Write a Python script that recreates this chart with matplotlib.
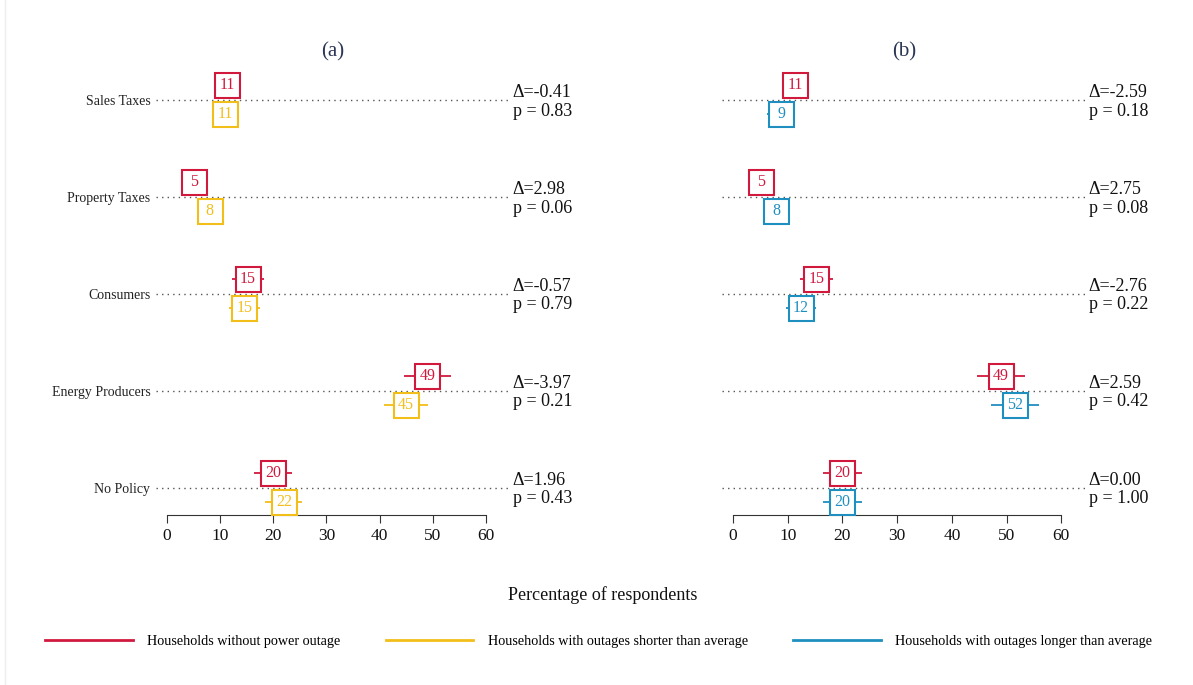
import matplotlib
matplotlib.use("Agg")
import matplotlib.pyplot as plt
from matplotlib.lines import Line2D

plt.rcParams['font.family'] = ['Liberation Serif', 'DejaVu Serif']

categories = ['Sales Taxes', 'Property Taxes', 'Consumers', 'Energy Producers', 'No Policy']

# point estimates (% of respondents)
no_outage = [11.4, 5.1, 15.2, 49.0, 20.0]
short_outage = [11.0, 8.1, 14.6, 45.0, 22.0]
long_outage = [8.8, 7.9, 12.4, 51.6, 20.0]

# half width of the confidence intervals
no_outage_ci = [2.5, 2.0, 3.0, 4.4, 3.5]
short_outage_ci = [2.3, 2.0, 2.9, 4.1, 3.5]
long_outage_ci = [2.6, 2.4, 2.7, 4.4, 3.6]

delta_a = ['-0.41', '2.98', '-0.57', '-3.97', '1.96']
pval_a = ['0.83', '0.06', '0.79', '0.21', '0.43']
delta_b = ['-2.59', '2.75', '-2.76', '2.59', '0.00']
pval_b = ['0.18', '0.08', '0.22', '0.42', '1.00']

RED = '#D1193E'
YELLOW = '#F2BE1A'
BLUE = '#1F8FC0'

W, H = 1193, 685
fig = plt.figure(figsize=(W / 100, H / 100), dpi=100)

ax_a = fig.add_axes([156 / W, 1 - 515 / H, 354 / W, 449 / H])
ax_b = fig.add_axes([722 / W, 1 - 515 / H, 364 / W, 449 / H])

ypos = [4, 3, 2, 1, 0]
off = 0.15


def draw_group(ax, vals, cis, y_off, color):
    for v, c, y in zip(vals, cis, ypos):
        ax.hlines(y + y_off, v - c, v + c, color=color, lw=1.3, zorder=2)
        ax.plot(v, y + y_off, marker='s', ms=18, mfc='white', mec=color, mew=1.5, zorder=3)
        ax.text(v, y + y_off, '%d' % round(v), color=color, fontsize=11.5,
                ha='center', va='center', zorder=4)


def panel(ax, other, other_ci, other_color, deltas, pvals, title, labels):
    for y in ypos:
        ax.axhline(y, color='#555555', lw=1.0, ls=(0, (1, 3)), zorder=1)
    draw_group(ax, no_outage, no_outage_ci, off, RED)
    draw_group(ax, other, other_ci, -off, other_color)
    for y, d, p in zip(ypos, deltas, pvals):
        ax.text(65, y - 0.02, '\u0394=' + d + '\np = ' + p, fontsize=13, ha='left',
                va='center', linespacing=1.1, color='#111111', clip_on=False)
    ax.set_xlim(-2, 64.5)
    ax.set_ylim(-0.28, 4.35)
    ax.set_xticks([0, 10, 20, 30, 40, 50, 60])
    ax.tick_params(axis='x', labelsize=12.5, length=6, color='#333333', labelcolor='#111111')
    ax.set_yticks(ypos)
    if labels:
        ax.set_yticklabels(categories, fontsize=10, color='#222222')
    else:
        ax.set_yticklabels([])
    ax.tick_params(axis='y', length=0, pad=4)
    for s in ['top', 'right', 'left']:
        ax.spines[s].set_visible(False)
    ax.spines['bottom'].set_bounds(0, 60)
    ax.spines['bottom'].set_color('#333333')
    ax.set_title(title, fontsize=15, color='#2B3655', pad=7)


panel(ax_a, short_outage, short_outage_ci, YELLOW, delta_a, pval_a, '(a)', True)
panel(ax_b, long_outage, long_outage_ci, BLUE, delta_b, pval_b, '(b)', False)

fig.text(0.505, 1 - 595 / H, 'Percentage of respondents', fontsize=13,
         ha='center', va='center', color='#111111')

handles = [Line2D([], [], color=RED, lw=2),
           Line2D([], [], color=YELLOW, lw=2),
           Line2D([], [], color=BLUE, lw=2)]
legend_labels = ['Households without power outage',
                 'Households with outages shorter than average',
                 'Households with outages longer than average']
fig.legend(handles, legend_labels, loc='center left', bbox_to_anchor=(45 / W, 1 - 641 / H),
           ncol=3, frameon=False, fontsize=10.2, handlelength=6.2, handletextpad=1.0,
           columnspacing=3.2, borderpad=0, borderaxespad=0)

fig.add_artist(Line2D([5 / W, 5 / W], [0, 1], color='#EEEEEE', lw=1))

fig.savefig('out.png', dpi=100, facecolor='white')
